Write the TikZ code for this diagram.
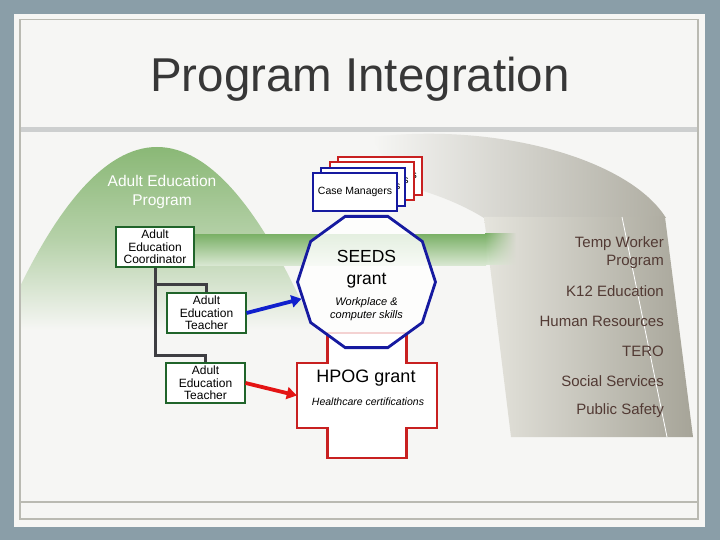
\documentclass[tikz,border=0pt]{standalone}
\usepackage{fontspec}
\setmainfont{Liberation Sans}
\usepackage{tikz}
\usetikzlibrary{positioning, calc, shapes.geometric, arrows.meta, fadings}

\definecolor{slateback}{RGB}{138,158,168}
\definecolor{paper}{RGB}{246,246,244}
\definecolor{framegray}{RGB}{186,186,178}
\definecolor{titlegray}{RGB}{205,207,207}
\definecolor{titleink}{RGB}{55,55,55}
\definecolor{domegreen}{RGB}{138,184,118}
\definecolor{bandgreen}{RGB}{122,176,102}
\definecolor{bandpale}{RGB}{216,231,209}
\definecolor{stonelight}{RGB}{229,228,221}
\definecolor{stonedark}{RGB}{166,164,152}
\definecolor{stoneink}{RGB}{82,58,52}
\definecolor{staffgreen}{RGB}{32,100,42}
\definecolor{treegray}{RGB}{62,62,66}
\definecolor{seedblue}{RGB}{22,26,160}
\definecolor{arrowblue}{RGB}{16,32,205}
\definecolor{hpogred}{RGB}{200,32,32}
\definecolor{arrowred}{RGB}{228,20,20}

\newcommand{\fsz}[2]{\fontsize{#1pt}{#2pt}\selectfont}
\tikzfading[name=bandfade, left color=transparent!0, right color=transparent!100]

\tikzset{
  staffbox/.style={draw=staffgreen, line width=1.1pt, fill=white, minimum width=79pt,
    minimum height=40pt, inner sep=1pt, align=center, font=\fsz{12}{12.5}},
  orgline/.style={draw=treegray, line width=3pt},
  casebox/.style={fill=white, line width=2.2pt, minimum width=84pt, minimum height=38pt,
    inner sep=0pt, font=\fsz{10.5}{12}},
  sideitem/.style={anchor=east, align=right, inner sep=0pt, text=stoneink, font=\fsz{15}{18}},
  hpogline/.style={draw=hpogred, line width=2.2pt, fill=white},
  linkarrow/.style={line width=3.8pt, -{Triangle[length=10pt,width=12pt]}},
}

\begin{document}
\begin{tikzpicture}[x=1pt, y=-1pt]
      \useasboundingbox (0,0) rectangle (720,540);

      % slide
      \fill[slateback] (0,0) rectangle (720,540);
      \fill[paper] (14,14) rectangle (705,527);
      \draw[framegray, line width=1.5pt] (20,19.5) rectangle (698,519);
      \draw[titlegray, line width=5pt] (21,129.5) -- (697,129.5);   %under title
      \draw[framegray, line width=1.5pt] (20,502) -- (698,502);     %footer

      \node[text=titleink, font=\fsz{47.5}{50}, anchor=base] (title) at (360,92) {Program Integration};

      % green dome
      \begin{scope}
        \clip (21,133) rectangle (697,501);
        \shade[top color=domegreen, bottom color=paper, middle color=domegreen!60!paper]
          (0,330) .. controls (52.3,208) and (104.7,147) .. (157,147)
                  .. controls (209.3,147) and (261.7,208) .. (314,330) -- cycle;
      \end{scope}

      % gray ribbon
      \shade[left color=paper, right color=stonedark!85!stonelight]
        (372,137) .. controls (500,122) and (630,160) .. (666,218) -- (484,218)
                  .. controls (460,203) and (430,192) .. (405,186)
                  .. controls (390,175) and (380,150) .. cycle;
      \shade[left color=stonelight, right color=stonedark] (484,217) -- (665,217) -- (693,437) -- (511,437) -- cycle;
      \draw[white, line width=.8pt] (622,217) -- (667,437);

      % green band
      \shade[top color=bandgreen, bottom color=bandpale] (180,234) rectangle (486,265);
      \shade[top color=bandgreen, bottom color=bandpale, path fading=bandfade] (485,234) rectangle (516,265);

      \node[sideitem] (tempw) at (664,253) {Temp Worker\\Program};
      \node[sideitem] (k12)   at (664,291) {K12 Education};
      \node[sideitem] (hr)    at (664,321) {Human Resources};
      \node[sideitem] (tero)  at (664,351) {TERO};
      \node[sideitem] (socs)  at (664,381) {Social Services};
      \node[sideitem] (pubs)  at (664,411) {Public Safety};

      \node[text=white, align=center, font=\fsz{15.5}{19}] (aeprog) at (162,192) {Adult Education\\Program};

      % staff
      \node[staffbox, minimum width=78pt] (coord) at (155,247) {Adult\\Education\\Coordinator};
      \node[staffbox] (teachA) at (206.5,313) {Adult\\Education\\Teacher};
      \node[staffbox] (teachB) at (205.5,383) {Adult\\Education\\Teacher};

      \draw[orgline] (coord.south) |- ($(teachA.north)+(0,-8)$) -- (teachA.north);
      \draw[orgline] (coord.south) |- ($(teachB.north)+(0,-7)$) -- (teachB.north);

      % grants
      \node[minimum width=140pt, minimum height=65pt, inner sep=0pt] (hpog) at (367,395.5) {};
      \draw[hpogline] ($(hpog)+(-39.5,-62.5)$) -- ++(79,0) -- ++(0,30) -- ++(30.5,0) -- ++(0,65)
        -- ++(-30.5,0) -- ++(0,30) -- ++(-79,0) -- ++(0,-30) -- ++(-30.5,0) -- ++(0,-65) -- ++(30.5,0) -- cycle;

      \node[regular polygon, regular polygon sides=10, minimum size=138pt, inner sep=0pt,
            draw=seedblue, line width=2.8pt, fill=white, fill opacity=.8] (seeds) at (366.5,282) {};

      \node[font=\fsz{17.5}{22}, align=center] (seedsname) at (366.5,269) {SEEDS\\grant};
      \node[font=\fsz{11}{13}\itshape, align=center] (seedsnote) at (366.5,309.5) {Workplace \&\\computer skills};
      \node[font=\fsz{18}{20}] (hpogname) at (366,378) {HPOG grant};
      \node[font=\fsz{10.5}{12}\itshape] (hpognote) at (368,402) {Healthcare certifications};

      \draw[linkarrow, arrowblue] (teachA.east) -- (seeds);
      \draw[linkarrow, arrowred] (teachB.east) -- (hpog.west);

      % case managers, back to front
      \foreach \k/\rim in {3/hpogred, 2/hpogred, 1/seedblue, 0/seedblue}
        \node[casebox, draw=\rim] (case\k) at ($(355,192)+(\k*8.3,-\k*5.3)$) {Case Managers};
\end{tikzpicture}
\end{document}
